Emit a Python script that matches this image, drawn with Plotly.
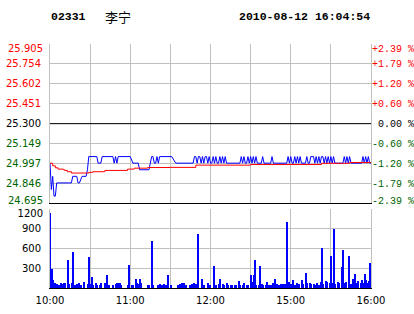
import plotly.graph_objects as go

# ---------------- data ----------------
PREV_CLOSE = 25.300
price_ticks = [24.695, 24.846, 24.997, 25.149, 25.300, 25.451, 25.602, 25.754, 25.905]
pct_labels = ["-2.39 %", "-1.79 %", "-1.20 %", "-0.60 %", "\u00a00.00 %",
              "+0.60 %", "+1.20 %", "+1.79 %", "+2.39 %"]
vol_ticks = [300, 600, 900, 1200]
time_ticks = [0, 30, 60, 90, 120, 150, 180, 210, 240]
time_labels = ["10:00", "", "11:00", "", "12:00", "", "15:00", "", "16:00"]

# last price (minute index from 10:00, HK session 10:00-12:30 + 14:30-16:00)
price_minute = [0, 1, 2, 3, 4, 5, 16, 17, 20, 21, 22, 24, 27, 28, 29, 35, 36, 38, 39, 47,
                48, 49, 50, 51, 60, 62, 66, 67, 74, 75, 76, 77, 78, 79, 80, 81, 82, 91, 94, 107,
                108, 109, 110, 111, 112, 113, 114, 115, 116, 117, 118, 119, 120, 121, 122, 123, 124, 125, 126, 127,
                128, 129, 130, 131, 132, 142, 143, 144, 145, 146, 147, 148, 149, 150, 151, 152, 153, 154, 155, 158,
                159, 160, 165, 166, 167, 177, 178, 179, 180, 181, 182, 183, 184, 185, 186, 187, 188, 191, 192, 193,
                194, 195, 197, 198, 199, 200, 201, 202, 203, 204, 205, 206, 207, 208, 209, 210, 211, 212, 213, 219,
                220, 221, 222, 223, 224, 225, 233, 234, 235, 236, 237, 238, 239, 240]
price_value = [25.00, 24.80, 24.90, 24.75, 24.75, 24.85, 24.85, 24.90, 24.90, 24.85, 24.85, 24.90, 24.90, 24.95, 25.05, 25.05, 25.00, 25.00, 25.05, 25.05,
               25.00, 25.05, 25.00, 25.05, 25.05, 25.00, 25.00, 24.95, 24.95, 25.00, 25.05, 25.05, 25.00, 25.00, 25.05, 25.00, 25.05, 25.05, 25.00, 25.00,
               25.05, 25.05, 25.00, 25.05, 25.05, 25.00, 25.05, 25.00, 25.05, 25.05, 25.00, 25.05, 25.00, 25.00, 25.05, 25.00, 25.05, 25.00, 25.00, 25.05,
               25.00, 25.05, 25.00, 25.05, 25.00, 25.00, 25.05, 25.00, 25.05, 25.00, 25.00, 25.05, 25.00, 25.05, 25.00, 25.05, 25.00, 25.05, 25.00, 25.00,
               25.05, 25.00, 25.00, 25.05, 25.00, 25.00, 25.05, 25.00, 25.05, 25.00, 25.00, 25.05, 25.00, 25.05, 25.00, 25.05, 25.00, 25.00, 25.05, 25.00,
               25.00, 25.05, 25.05, 25.00, 25.05, 25.00, 25.05, 25.00, 25.05, 25.05, 25.00, 25.05, 25.00, 25.05, 25.00, 25.05, 25.00, 25.05, 25.00, 25.00,
               25.05, 25.00, 25.05, 25.00, 25.05, 25.00, 25.00, 25.05, 25.00, 25.05, 25.00, 25.05, 25.00, 25.00]

# average price
avg_minute = [0, 2, 4, 6, 10, 11, 13, 16, 29, 32, 41, 58, 63, 73, 90, 109, 150, 203, 224, 240]
avg_value = [25.000, 24.980, 24.965, 24.955, 24.950, 24.945, 24.935, 24.925, 24.930, 24.935,
             24.945, 24.955, 24.962, 24.967, 24.968, 24.985, 24.990, 24.999, 25.005, 25.005]

# volume per minute (lots)
vol_minute = [0, 1, 2, 3, 4, 5, 6, 8, 9, 10, 11, 13, 14, 16, 17, 18, 19, 20, 21, 23,
              25, 28, 29, 30, 31, 32, 34, 35, 37, 38, 41, 42, 43, 44, 47, 49, 50, 51, 52, 53,
              58, 59, 61, 62, 64, 65, 66, 67, 68, 73, 74, 76, 77, 80, 81, 82, 83, 85, 86, 88,
              90, 95, 96, 97, 98, 100, 101, 104, 106, 107, 108, 109, 110, 113, 115, 118, 119, 122, 124, 126,
              127, 129, 130, 132, 133, 135, 136, 138, 139, 141, 142, 144, 145, 147, 148, 150, 151, 152, 153, 154,
              156, 157, 158, 159, 161, 162, 163, 165, 166, 168, 169, 171, 172, 174, 175, 177, 178, 180, 181, 183,
              184, 186, 188, 189, 191, 192, 194, 195, 197, 198, 199, 201, 202, 203, 204, 206, 207, 209, 210, 211,
              212, 213, 215, 216, 218, 219, 220, 221, 223, 225, 226, 227, 228, 229, 230, 232, 233, 234, 235, 236,
              237, 238, 239]
vol_value = [1140, 290, 110, 75, 25, 50, 40, 75, 50, 75, 75, 415, 50, 65, 550, 40, 40, 50, 75, 40,
             90, 50, 475, 50, 170, 40, 75, 40, 40, 75, 75, 200, 40, 40, 40, 50, 65, 75, 75, 40,
             40, 350, 40, 40, 140, 75, 50, 125, 75, 40, 40, 715, 40, 40, 40, 50, 40, 50, 40, 200,
             40, 40, 40, 50, 75, 65, 40, 40, 50, 65, 40, 60, 820, 125, 40, 65, 40, 330, 35, 60,
             125, 50, 35, 65, 35, 35, 35, 35, 35, 95, 35, 35, 65, 45, 35, 200, 80, 200, 415, 35,
             35, 325, 50, 35, 35, 80, 35, 35, 65, 140, 50, 35, 50, 50, 50, 1005, 80, 50, 110, 35,
             65, 50, 110, 50, 230, 65, 65, 50, 50, 35, 65, 35, 80, 610, 50, 95, 80, 65, 490, 65,
             900, 50, 80, 65, 310, 580, 65, 80, 490, 50, 125, 110, 215, 65, 95, 65, 110, 65, 215, 110,
             65, 95, 370]

# ---------------- styling ----------------
RED = "#ff0000"
GREEN = "#006400"
GRID = "#c0c0c0"
LABEL_FONT = dict(family="DejaVu Sans", size=10, color="black")
MONO_FONT = dict(family="Liberation Mono", size=10, color="black")


def tick_color(v):
    if v > PREV_CLOSE + 1e-9:
        return RED
    if v < PREV_CLOSE - 1e-9:
        return GREEN
    return "black"


left_text = [f'<span style="color:{tick_color(v)}">{v:.3f}</span>' for v in price_ticks]
right_text = [f'<span style="color:{tick_color(v)}">{t}</span>' for v, t in zip(price_ticks, pct_labels)]
vol_text = [str(v) for v in vol_ticks]


def blank_ends(lst):
    return [""] + lst[1:-1] + [""]


fig = go.Figure()

fig.add_trace(go.Scatter(x=price_minute, y=price_value, mode="lines",
                         line=dict(color="#0000ff", width=1), xaxis="x", yaxis="y",
                         hoverinfo="skip"))
fig.add_trace(go.Scatter(x=avg_minute, y=avg_value, mode="lines",
                         line=dict(color=RED, width=1, shape="hv"), xaxis="x", yaxis="y",
                         hoverinfo="skip"))
fig.add_trace(go.Bar(x=vol_minute, y=vol_value, width=0.75, offset=0,
                     marker=dict(color="#0000ff", line=dict(width=0)),
                     xaxis="x2", yaxis="y2", hoverinfo="skip"))
# invisible traces so the extra label axes are drawn
for ya in ["y3", "y4", "y5", "y6", "y7"]:
    fig.add_trace(go.Scatter(x=[0], y=[PREV_CLOSE], mode="markers", marker=dict(opacity=0),
                             xaxis="x", yaxis=ya, hoverinfo="skip"))
fig.add_trace(go.Scatter(x=[0], y=[0], mode="markers", marker=dict(opacity=0),
                         xaxis="x2", yaxis="y8", hoverinfo="skip"))

PRICE_DOMAIN = [0.347, 1.0]
VOL_DOMAIN = [0.0, 0.3225]
RANGE_P = [price_ticks[0], price_ticks[-1]]


def label_axis(side, vals, texts, shift, font, standoff, overlay="y", rng=RANGE_P):
    return dict(range=rng, overlaying=overlay, side=side, anchor="x" if overlay == "y" else "x2",
                tickvals=vals, ticktext=texts, ticks="", showgrid=False, zeroline=False,
                showline=False, tickfont=font, ticklabelstandoff=standoff,
                ticklabelshift=shift, automargin=False)


fig.update_layout(
    width=414, height=314,
    margin=dict(l=50, r=43, t=44, b=26, autoexpand=False),
    paper_bgcolor="white", plot_bgcolor="white",
    showlegend=False,
    bargap=0,
    xaxis=dict(domain=[0, 1], range=[0, 240], anchor="y", tickvals=time_ticks,
               showticklabels=False, ticks="", showgrid=True, gridcolor=GRID, gridwidth=1,
               showline=True, linecolor="black", linewidth=1, zeroline=False, automargin=False),
    xaxis2=dict(domain=[0, 1], range=[0, 240], anchor="y2", tickvals=time_ticks,
                ticktext=time_labels, ticks="", showgrid=True, gridcolor=GRID, gridwidth=1,
                showline=True, linecolor="black", linewidth=1, zeroline=False,
                tickfont=LABEL_FONT, ticklabelstandoff=3, automargin=False),
    yaxis=dict(domain=PRICE_DOMAIN, range=RANGE_P, anchor="x", tickvals=price_ticks,
               ticktext=blank_ends(left_text), ticks="", showgrid=True, gridcolor=GRID, gridwidth=1,
               showline=True, linecolor=GRID, mirror=True, zeroline=False,
               tickfont=LABEL_FONT, ticklabelstandoff=6, automargin=False),
    yaxis4=label_axis("left", [price_ticks[-1]], [left_text[-1]], 4, LABEL_FONT, 6),
    yaxis5=label_axis("left", [price_ticks[0]], [left_text[0]], -3, LABEL_FONT, 6),
    yaxis3=label_axis("right", price_ticks, blank_ends(right_text), 0, MONO_FONT, 0),
    yaxis6=label_axis("right", [price_ticks[-1]], [right_text[-1]], 4, MONO_FONT, 0),
    yaxis7=label_axis("right", [price_ticks[0]], [right_text[0]], -3, MONO_FONT, 0),
    yaxis2=dict(domain=VOL_DOMAIN, range=[0, 1200], anchor="x2", tickvals=vol_ticks,
                ticktext=vol_text[:-1] + [""], ticks="", showgrid=True, gridcolor=GRID, gridwidth=1,
                showline=True, linecolor=GRID, mirror=True, zeroline=False,
                tickfont=LABEL_FONT, ticklabelstandoff=6, automargin=False),
    yaxis8=label_axis("left", [vol_ticks[-1]], [vol_text[-1]], 4, LABEL_FONT, 6,
                      overlay="y2", rng=[0, 1200]),
    shapes=[dict(type="line", xref="x domain", x0=0, x1=1, yref="y",
                 y0=PREV_CLOSE, y1=PREV_CLOSE, line=dict(color="black", width=1))],
    annotations=[
        dict(text="<b>02331</b>", x=-0.003, y=1.111, xref="paper", yref="paper",
             xanchor="left", yanchor="middle", showarrow=False,
             font=dict(family="Liberation Mono", size=11.5, color="black")),
        dict(text="李宁", x=0.165, y=1.111, xref="paper", yref="paper",
             xanchor="left", yanchor="middle", showarrow=False,
             font=dict(family="Noto Sans CJK SC", size=13, color="black")),
        dict(text="<b>2010-08-12 16:04:54</b>", x=0.5826, y=1.111, xref="paper", yref="paper",
             xanchor="left", yanchor="middle", showarrow=False,
             font=dict(family="Liberation Mono", size=11.5, color="black")),
    ],
)

fig.write_html("out.html")
